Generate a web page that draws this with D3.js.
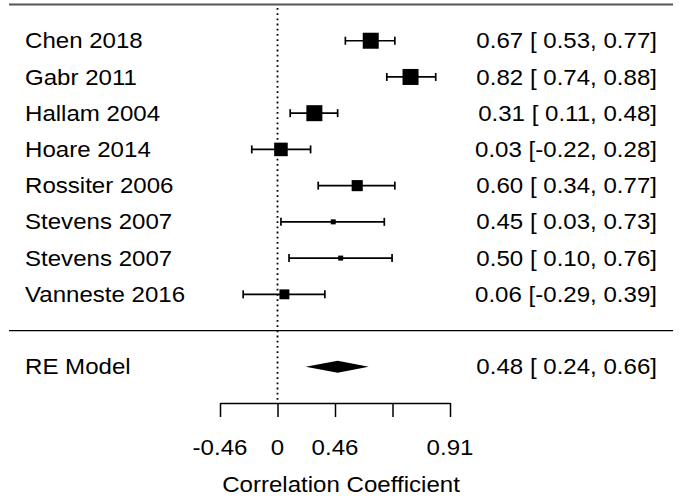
<!DOCTYPE html>
<html>
<head>
<meta charset="utf-8">
<script src="https://cdn.jsdelivr.net/npm/d3@7"></script>
<style>
  html, body { margin: 0; padding: 0; background: #fff; }
  svg { display: block; }
  text { font-family: "Liberation Sans", Arial, Helvetica, sans-serif; fill: #000; }
</style>
</head>
<body>
<svg id="chart" width="680" height="504"></svg>
<script>
// ---- data (correlations) ----
const studies   = ["Chen 2018", "Gabr 2011", "Hallam 2004", "Hoare 2014", "Rossiter 2006", "Stevens 2007", "Stevens 2007", "Vanneste 2016"];
const estimates = [0.67, 0.82, 0.31, 0.03, 0.60, 0.45, 0.50, 0.06];
const ciLower   = [0.53, 0.74, 0.11, -0.22, 0.34, 0.03, 0.10, -0.29];
const ciUpper   = [0.77, 0.88, 0.48, 0.28, 0.77, 0.73, 0.76, 0.39];
const weights   = [15, 15, 15, 13, 11, 6, 6, 10];
const modelLabel = "RE Model";
const modelEst = 0.48, modelLo = 0.24, modelHi = 0.66;
const tickZ      = [-0.5, 0, 0.5, 1, 1.5];           // Fisher z positions
const tickLabels = ["-0.46", "0", "0.46", "", "0.91"];
const axisTitle  = "Correlation Coefficient";

// ---- layout ----
const svg = d3.select("#chart");
const FS = 21.5, SX = 1.12;
const k = studies.length;

// x is linear on the Fisher z scale
const x = d3.scaleLinear().domain([-0.5, 1.5]).range([220, 450]);
const xr = r => x(Math.atanh(r));
// row positions: studies k..1, separator 0, model -1, axis -2, top line k+1
const y = d3.scaleLinear().domain([k + 1, -2]).range([4.5, 403]);
const size = d3.scaleLinear().domain([d3.min(weights), d3.max(weights)]).range([5, 16]);

const fmt = v => (v < 0 ? "-" : " ") + Math.abs(v).toFixed(2);
const ciText = (e, l, u) => e.toFixed(2) + " [" + fmt(l) + ", " + fmt(u).replace(/^ /, " ") + "]";

function label(txt, px, py, anchor) {
  svg.append("text")
    .attr("transform", `translate(${px},${py}) scale(${SX},1)`)
    .attr("text-anchor", anchor)
    .style("font-size", FS + "px")
    .text(txt);
}

// top and separator lines
svg.append("line").attr("x1", 9).attr("x2", 673).attr("y1", y(k + 1)).attr("y2", y(k + 1))
  .attr("stroke", "#555").attr("stroke-width", 2);
svg.append("line").attr("x1", 9).attr("x2", 673).attr("y1", y(0)).attr("y2", y(0))
  .attr("stroke", "#000").attr("stroke-width", 1.3);

// reference line at 0
svg.append("line").attr("x1", x(0)).attr("x2", x(0)).attr("y1", 8).attr("y2", y(-2))
  .attr("stroke", "#000").attr("stroke-width", 1.8).attr("stroke-dasharray", "1.8 3.4");

// studies
const rows = studies.map((s, i) => ({ s, e: estimates[i], l: ciLower[i], u: ciUpper[i], w: weights[i], row: k - i }));
const g = svg.append("g");
rows.forEach(d => {
  const cy = y(d.row);
  g.append("line").attr("x1", xr(d.l)).attr("x2", xr(d.u)).attr("y1", cy).attr("y2", cy)
    .attr("stroke", "#000").attr("stroke-width", 1.7);
  [d.l, d.u].forEach(v => g.append("line").attr("x1", xr(v)).attr("x2", xr(v))
    .attr("y1", cy - 4).attr("y2", cy + 4).attr("stroke", "#000").attr("stroke-width", 1.7));
  const sz = size(d.w);
  g.append("rect").attr("x", xr(d.e) - sz / 2).attr("y", cy - sz / 2).attr("width", sz).attr("height", sz)
    .attr("fill", "#000");
  label(d.s, 25, cy + 7.6, "start");
  label(ciText(d.e, d.l, d.u), 657, cy + 7.6, "end");
});

// model diamond
const my = y(-1);
svg.append("polygon")
  .attr("points", [[xr(modelLo), my], [xr(modelEst), my - 6], [xr(modelHi), my], [xr(modelEst), my + 6]].map(p => p.join(",")).join(" "))
  .attr("fill", "#000");
label(modelLabel, 25, my + 7, "start");
label(ciText(modelEst, modelLo, modelHi), 657, my + 7, "end");

// axis
const ay = y(-2);
const axis = d3.axisBottom(x).tickValues(tickZ).tickFormat(() => "").tickSize(14).tickSizeOuter(0);
const ag = svg.append("g").attr("transform", `translate(0,${ay})`).call(axis);
ag.select(".domain").attr("stroke", "#000").attr("stroke-width", 1.5);
ag.selectAll(".tick line").attr("stroke", "#000").attr("stroke-width", 1.5);
tickZ.forEach((z, i) => label(tickLabels[i], x(z), 455, "middle"));
label(axisTitle, 341, 492, "middle");
</script>
</body>
</html>
